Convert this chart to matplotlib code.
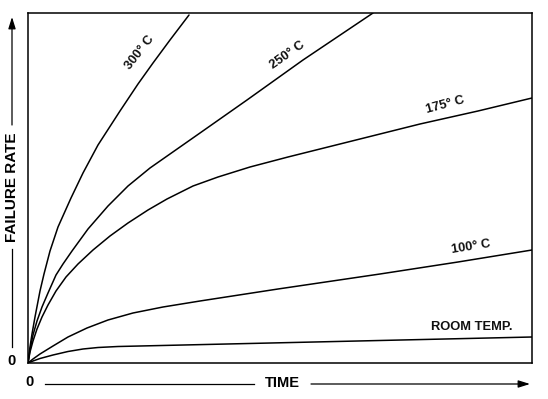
import matplotlib
matplotlib.use("Agg")
import matplotlib.pyplot as plt
from matplotlib.lines import Line2D

plt.rcParams['font.family'] = ['Liberation Sans', 'DejaVu Sans']

# curves (time, failure rate in plot units)
t_300 = [0, 2, 4, 7, 12, 16, 22, 30, 43, 55, 70, 92, 110, 125, 142, 161]
r_300 = [0, 16, 29, 46, 72, 89, 112, 136, 165, 190, 218, 252, 279, 300, 323, 348]

t_250 = [0, 2, 5, 9, 14, 20, 28, 35, 44, 60, 80, 100, 122, 172, 219, 275, 345]
r_250 = [0, 13, 28, 42, 56, 70, 88, 99, 112, 134, 157, 177, 195, 230, 263, 303, 350]

t_175 = [0, 2, 5, 9, 14, 20, 28, 38, 50, 65, 82, 100, 120, 139, 165, 190, 222,
         260, 292, 340, 392, 450, 504]
r_175 = [0, 11, 22, 34, 46, 58, 72, 86, 99, 113, 127, 140, 153, 164, 177, 186, 196,
         206, 214, 226, 239, 252, 265]

t_100 = [0, 5, 12, 25, 40, 59, 80, 105, 135, 172, 250, 352, 430, 504]
r_100 = [0, 4, 9, 17, 26, 35, 43, 50, 56, 62, 74, 89, 101, 113]

t_room = [0, 5, 12, 25, 40, 55, 70, 90, 112, 504]
r_room = [0, 2, 4.5, 8, 11.5, 14, 15.5, 16.5, 17, 26]

labels = ["300° C", "250° C", "175° C", "100° C", "ROOM TEMP."]
label_x = [112, 259, 417, 443, 444]
label_y = [310, 308, 258, 116, 36]
label_rot = [52, 35, 15, 9, 0]

W, H = 548, 399
fig = plt.figure(figsize=(W / 100, H / 100), dpi=100)
ax = fig.add_axes([28 / W, 1 - 363 / H, 504 / W, 350 / H])

for t, r in [(t_300, r_300), (t_250, r_250), (t_175, r_175), (t_100, r_100), (t_room, r_room)]:
    ax.plot(t, r, color='black', lw=1.1, solid_capstyle='round', solid_joinstyle='round')

for s, x, y, rot in zip(labels, label_x, label_y, label_rot):
    ax.text(x, y, s, rotation=rot, rotation_mode='anchor', ha='center', va='center',
            fontsize=9.3, fontweight='bold', color='#111111')

ax.set_xlim(0, 504)
ax.set_ylim(0, 350)
ax.set_xticks([])
ax.set_yticks([])
for sp in ax.spines.values():
    sp.set_linewidth(1.1)
    sp.set_color('black')


def fp(px, py):
    return px / W, 1 - py / H


def seg(p1, p2):
    (x1, y1), (x2, y2) = fp(*p1), fp(*p2)
    fig.add_artist(Line2D([x1, x2], [y1, y2], color='black', lw=0.9, transform=fig.transFigure))


def arrow(p1, p2):
    ax.annotate('', xy=fp(*p2), xytext=fp(*p1), xycoords='figure fraction',
                textcoords='figure fraction', annotation_clip=False,
                arrowprops=dict(arrowstyle='-|>,head_length=0.7,head_width=0.22',
                                color='black', lw=0.9, shrinkA=0, shrinkB=0))


# y axis label with arrow
seg((12, 347), (12, 249))
fig.text(*fp(12, 187), "FAILURE RATE", rotation=90, ha='center', va='center',
         fontsize=11, fontweight='bold')
arrow((12, 125), (12, 17))
fig.text(*fp(12, 361), "0", ha='center', va='center', fontsize=10.5, fontweight='bold')

# x axis label with arrow
seg((45, 384), (254, 384))
fig.text(*fp(282, 383), "TIME", ha='center', va='center', fontsize=10.5, fontweight='bold')
arrow((311, 384), (530, 384))
fig.text(*fp(29, 382), "0", ha='center', va='center', fontsize=10.5, fontweight='bold')

fig.savefig("out.png", dpi=100)
